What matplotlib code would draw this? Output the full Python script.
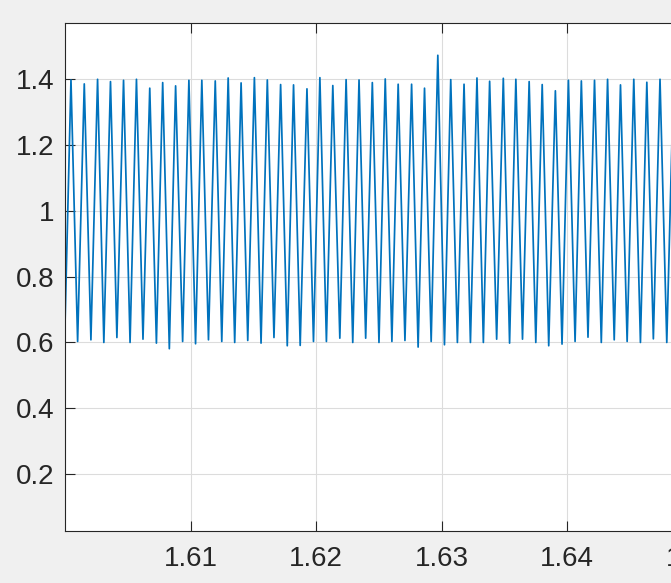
import numpy as np
import matplotlib
matplotlib.use("Agg")
from matplotlib import pyplot as plt
from matplotlib.ticker import FixedLocator, FuncFormatter

# extrema (time in s, value)
peak_t = [1.60046, 1.60152, 1.60258, 1.60361, 1.60465, 1.60568, 1.60674, 1.60777,
          1.60880, 1.60986, 1.61089, 1.61196, 1.61299, 1.61402, 1.61508, 1.61611,
          1.61717, 1.61820, 1.61927, 1.62030, 1.62133, 1.62239, 1.62342, 1.62448,
          1.62551, 1.62654, 1.62761, 1.62864, 1.62970, 1.63073, 1.63179, 1.63282,
          1.63383, 1.63492, 1.63592, 1.63698, 1.63802, 1.63907, 1.64011, 1.64114,
          1.64219, 1.64323, 1.64426, 1.64532, 1.64636, 1.64741, 1.64848]
peak_v = [1.398, 1.386, 1.400, 1.393, 1.397, 1.400, 1.373, 1.390,
          1.380, 1.397, 1.397, 1.395, 1.404, 1.389, 1.405, 1.398,
          1.384, 1.383, 1.371, 1.405, 1.381, 1.399, 1.398, 1.390,
          1.401, 1.385, 1.385, 1.373, 1.473, 1.399, 1.385, 1.404,
          1.394, 1.403, 1.400, 1.393, 1.384, 1.365, 1.397, 1.395,
          1.397, 1.400, 1.383, 1.400, 1.391, 1.400, 1.390]

trough_t = [1.59995, 1.60099, 1.60205, 1.60308, 1.60412, 1.60517, 1.60620, 1.60727,
            1.60830, 1.60936, 1.61039, 1.61142, 1.61248, 1.61351, 1.61455, 1.61561,
            1.61664, 1.61770, 1.61873, 1.61979, 1.62082, 1.62189, 1.62292, 1.62395,
            1.62501, 1.62604, 1.62708, 1.62813, 1.62917, 1.63023, 1.63126, 1.63230,
            1.63333, 1.63439, 1.63542, 1.63645, 1.63751, 1.63854, 1.63960, 1.64064,
            1.64167, 1.64273, 1.64376, 1.64479, 1.64585, 1.64688, 1.64795]
trough_v = [0.600, 0.603, 0.608, 0.600, 0.615, 0.600, 0.610, 0.598,
            0.581, 0.603, 0.596, 0.608, 0.603, 0.600, 0.606, 0.598,
            0.615, 0.590, 0.591, 0.603, 0.603, 0.613, 0.600, 0.613,
            0.600, 0.603, 0.606, 0.586, 0.603, 0.593, 0.600, 0.600,
            0.600, 0.610, 0.598, 0.610, 0.600, 0.590, 0.595, 0.603,
            0.616, 0.600, 0.608, 0.603, 0.600, 0.611, 0.600]

xticks = [1.61, 1.62, 1.63, 1.64, 1.65]
yticks = [0.2, 0.4, 0.6, 0.8, 1.0, 1.2, 1.4]

t = np.array(peak_t + trough_t)
v = np.array(peak_v + trough_v)
order = np.argsort(t)
t, v = t[order], v[order]

plt.rcParams['font.family'] = ['Liberation Sans', 'DejaVu Sans']
txt = '#262626'

fig = plt.figure(figsize=(6.71, 5.83), dpi=100, facecolor='#f0f0f0')
# axes runs past the right edge of the figure, as in the reference
ax = fig.add_axes([65.2 / 671, 52.3 / 583, 627.3 / 671, 507.4 / 583])
ax.set_facecolor('white')

ax.plot(t, v, color='#0072bd', linewidth=1.25, solid_joinstyle='round',
        solid_capstyle='round')

ax.set_xlim(1.6, 1.65)
ax.set_ylim(0.0276, 1.5703)
ax.xaxis.set_major_locator(FixedLocator(xticks))
ax.yaxis.set_major_locator(FixedLocator(yticks))
ax.xaxis.set_major_formatter(FuncFormatter(lambda x, p: '%g' % round(x, 4)))
ax.yaxis.set_major_formatter(FuncFormatter(lambda y, p: '%g' % round(y, 4)))

ax.grid(True, color='#dcdcdc', linewidth=0.8)
ax.set_axisbelow(True)
ax.tick_params(axis='both', direction='in', length=7.5, width=0.8, color=txt,
               labelcolor=txt, labelsize=20, top=True, right=True)
ax.tick_params(axis='x', pad=11)
ax.tick_params(axis='y', pad=8)
for s in ax.spines.values():
    s.set_color(txt)
    s.set_linewidth(0.8)

fig.savefig('out.png', dpi=100, facecolor=fig.get_facecolor())
